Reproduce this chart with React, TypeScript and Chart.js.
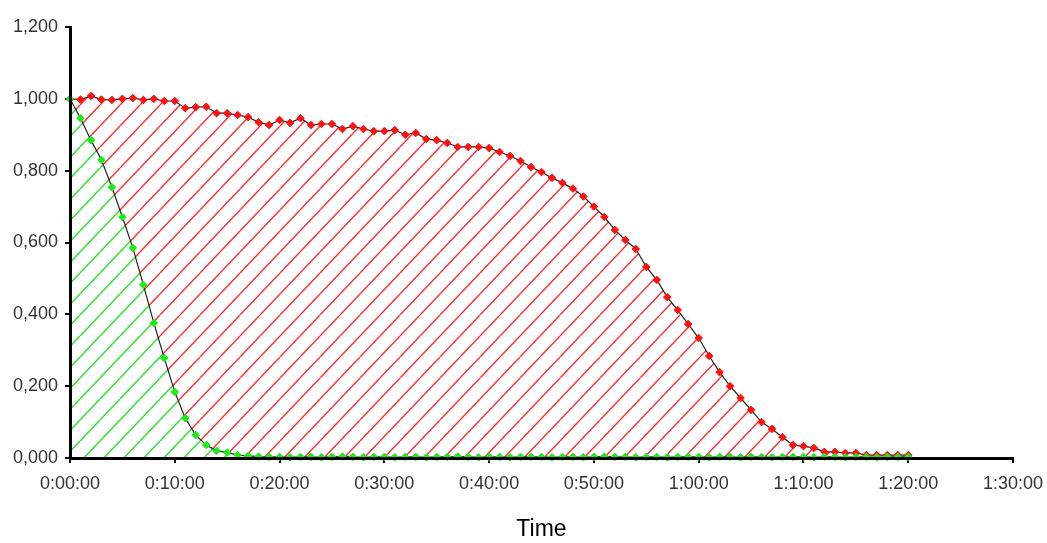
import React, { useEffect, useRef } from 'react';
import { Chart, registerables } from 'chart.js';

Chart.register(...registerables);

// Elapsed time in minutes (one sample per minute)
const MINUTES = [
  0, 1, 2, 3, 4, 5, 6, 7, 8, 9,
  10, 11, 12, 13, 14, 15, 16, 17, 18, 19,
  20, 21, 22, 23, 24, 25, 26, 27, 28, 29,
  30, 31, 32, 33, 34, 35, 36, 37, 38, 39,
  40, 41, 42, 43, 44, 45, 46, 47, 48, 49,
  50, 51, 52, 53, 54, 55, 56, 57, 58, 59,
  60, 61, 62, 63, 64, 65, 66, 67, 68, 69,
  70, 71, 72, 73, 74, 75, 76, 77, 78, 79,
  80,
];

// Red series (slow decay)
const RED_SERIES = [
  1.000, 0.998, 1.008, 0.998, 0.997, 1.000, 1.002, 0.997, 1.000, 0.994,
  0.994, 0.974, 0.977, 0.978, 0.960, 0.960, 0.955, 0.949, 0.935, 0.927,
  0.941, 0.933, 0.946, 0.927, 0.930, 0.930, 0.916, 0.924, 0.916, 0.910,
  0.910, 0.913, 0.900, 0.905, 0.888, 0.885, 0.877, 0.866, 0.866, 0.866,
  0.863, 0.852, 0.841, 0.827, 0.810, 0.796, 0.780, 0.766, 0.750, 0.728,
  0.700, 0.671, 0.635, 0.607, 0.582, 0.532, 0.496, 0.448, 0.412, 0.373,
  0.334, 0.284, 0.239, 0.200, 0.167, 0.134, 0.100, 0.081, 0.058, 0.036,
  0.033, 0.028, 0.017, 0.017, 0.014, 0.014, 0.008, 0.008, 0.008, 0.008,
  0.008,
];

// Green series (fast decay)
const GREEN_SERIES = [
  1.000, 0.946, 0.885, 0.830, 0.754, 0.671, 0.585, 0.482, 0.376, 0.278,
  0.184, 0.111, 0.064, 0.036, 0.020, 0.015, 0.008, 0.006, 0.004, 0.003,
  0.003, 0.002, 0.003, 0.003, 0.002, 0.003, 0.004, 0.003, 0.002, 0.003,
  0.003, 0.002, 0.003, 0.003, 0.002, 0.003, 0.003, 0.004, 0.003, 0.002,
  0.003, 0.003, 0.002, 0.003, 0.003, 0.003, 0.002, 0.003, 0.003, 0.002,
  0.003, 0.004, 0.003, 0.003, 0.002, 0.003, 0.003, 0.002, 0.003, 0.003,
  0.003, 0.002, 0.003, 0.003, 0.002, 0.003, 0.003, 0.002, 0.003, 0.003,
  0.003, 0.002, 0.003, 0.003, 0.002, 0.003, 0.003, 0.002, 0.003, 0.003,
  0.003,
];

const X_MIN = 0;
const X_MAX = 90;
const X_STEP = 10;
const Y_MIN = 0;
const Y_MAX = 1.2;
const Y_STEP = 0.2;
const X_TITLE = 'Time';

const FONT = "'Liberation Sans', Arial, sans-serif";

function fmtTime(v: number): string {
  const m = Math.round(Number(v));
  const h = Math.floor(m / 60);
  const mm = m % 60;
  return `${h}:${String(mm).padStart(2, '0')}:00`;
}

function fmtValue(v: number): string {
  return Number(v).toFixed(3).replace('.', ',');
}

function makeHatch(color: string, bg: string | null, w: number, h: number, lw: number) {
  const c = document.createElement('canvas');
  c.width = w;
  c.height = h;
  const ctx = c.getContext('2d')!;
  if (bg) {
    ctx.fillStyle = bg;
    ctx.fillRect(0, 0, w, h);
  }
  ctx.strokeStyle = color;
  ctx.lineWidth = lw;
  for (const dx of [-w, 0, w]) {
    ctx.beginPath();
    ctx.moveTo(dx, h);
    ctx.lineTo(dx + w, 0);
    ctx.stroke();
  }
  return ctx.createPattern(c, 'repeat')!;
}

export default function App() {
  const ref = useRef<HTMLCanvasElement | null>(null);

  useEffect(() => {
    if (!ref.current) return;
    const redHatch = makeHatch('#ff2a2a', null, 20, 21, 1.4);
    const greenHatch = makeHatch('#2ee02e', '#ffffff', 20, 21, 1.5);

    const redPts = MINUTES.map((m, i) => ({ x: m, y: RED_SERIES[i] }));
    const greenPts = MINUTES.map((m, i) => ({ x: m, y: GREEN_SERIES[i] }));

    const tickFont = { family: FONT, size: 18 };

    const chart = new Chart(ref.current, {
      type: 'line',
      data: {
        datasets: [
          {
            label: 'green',
            data: greenPts,
            borderColor: '#222222',
            borderWidth: 1.2,
            pointStyle: 'rectRot',
            pointRadius: 3.8,
            pointBackgroundColor: '#19ee19',
            pointBorderColor: '#19ee19',
            pointBorderWidth: 1,
            tension: 0,
            fill: 'origin',
            backgroundColor: greenHatch,
            clip: false,
          },
          {
            label: 'red',
            data: redPts,
            borderColor: '#222222',
            borderWidth: 1.2,
            pointStyle: 'rectRot',
            pointRadius: 3.8,
            pointBackgroundColor: '#ff1010',
            pointBorderColor: '#ff1010',
            pointBorderWidth: 1,
            tension: 0,
            fill: 'origin',
            backgroundColor: redHatch,
            clip: false,
          },
        ],
      },
      options: {
        responsive: false,
        animation: false,
        layout: { padding: { top: 27, right: 34, left: 0, bottom: 0 } },
        plugins: {
          legend: { display: false },
          tooltip: { enabled: false },
        },
        scales: {
          x: {
            type: 'linear',
            min: X_MIN,
            max: X_MAX,
            ticks: {
              stepSize: X_STEP,
              callback: (v: any) => fmtTime(v),
              color: '#333333',
              font: tickFont,
              padding: 10,
              maxRotation: 0,
              autoSkip: false,
            },
            grid: {
              drawOnChartArea: false,
              drawTicks: true,
              tickLength: 5,
              color: '#000000',
              lineWidth: 2,
            },
            border: { display: true, color: '#000000', width: 3, z: 1 },
            title: {
              display: true,
              text: X_TITLE,
              color: '#000000',
              font: { family: FONT, size: 23 },
              padding: { top: 0, bottom: 0 },
            },
            afterFit: (s: any) => {
              s.height = 85;
              s.paddingLeft = 0;
              s.paddingRight = 0;
            },
          },
          y: {
            type: 'linear',
            min: Y_MIN,
            max: Y_MAX,
            ticks: {
              stepSize: Y_STEP,
              callback: (v: any) => fmtValue(v),
              color: '#333333',
              font: tickFont,
              padding: 7,
            },
            grid: {
              drawOnChartArea: false,
              drawTicks: true,
              tickLength: 5,
              color: '#000000',
              lineWidth: 2,
            },
            border: { display: true, color: '#000000', width: 3, z: 1 },
            afterFit: (s: any) => {
              s.width = 70;
              s.paddingTop = 0;
              s.paddingBottom = 0;
            },
          },
        },
      },
    } as any);

    return () => chart.destroy();
  }, []);

  return (
    <div style={{ position: 'absolute', left: 0, top: 0, width: 1047, height: 543, background: '#fff' }}>
      <canvas ref={ref} width={1047} height={543} style={{ display: 'block', width: 1047, height: 543 }} />
    </div>
  );
}
